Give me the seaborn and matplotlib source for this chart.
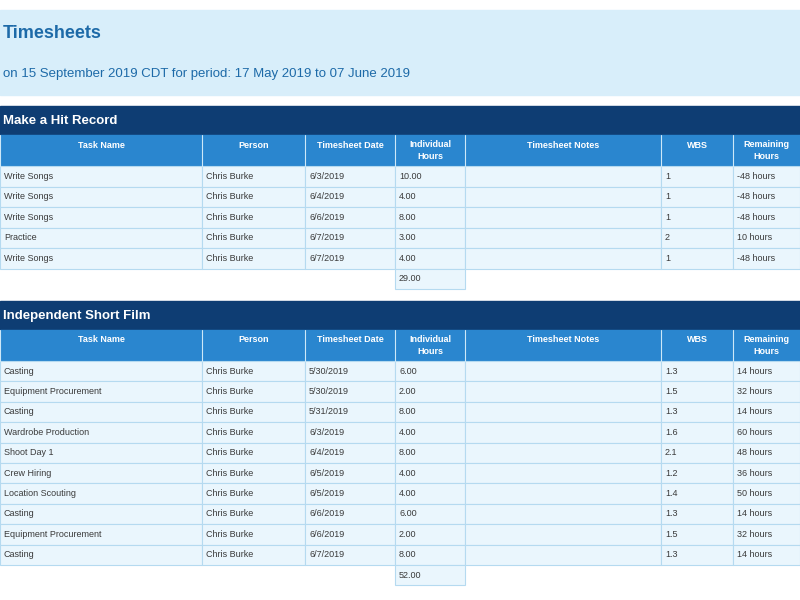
import matplotlib
matplotlib.use("Agg")
import matplotlib.pyplot as plt
import seaborn as sns
from matplotlib.patches import Rectangle

sns.set_theme(style="white", font="Liberation Sans")

title = "Timesheets"
subtitle = "on 15 September 2019 CDT for period: 17 May 2019 to 07 June 2019"
columns = ["Task Name", "Person", "Timesheet Date", "Individual\nHours",
           "Timesheet Notes", "WBS", "Remaining\nHours"]

proj1_name = "Make a Hit Record"
proj1_tasks = ["Write Songs", "Write Songs", "Write Songs", "Practice", "Write Songs"]
proj1_dates = ["6/3/2019", "6/4/2019", "6/6/2019", "6/7/2019", "6/7/2019"]
proj1_hours = [10.0, 4.0, 8.0, 3.0, 4.0]
proj1_wbs = ["1", "1", "1", "2", "1"]
proj1_remaining = [-48, -48, -48, 10, -48]

proj2_name = "Independent Short Film"
proj2_tasks = ["Casting", "Equipment Procurement", "Casting", "Wardrobe Production",
               "Shoot Day 1", "Crew Hiring", "Location Scouting", "Casting",
               "Equipment Procurement", "Casting"]
proj2_dates = ["5/30/2019", "5/30/2019", "5/31/2019", "6/3/2019", "6/4/2019",
               "6/5/2019", "6/5/2019", "6/6/2019", "6/6/2019", "6/7/2019"]
proj2_hours = [6.0, 2.0, 8.0, 4.0, 8.0, 4.0, 4.0, 6.0, 2.0, 8.0]
proj2_wbs = ["1.3", "1.5", "1.3", "1.6", "2.1", "1.2", "1.4", "1.3", "1.5", "1.3"]
proj2_remaining = [14, 32, 14, 60, 48, 36, 50, 14, 32, 14]
person = "Chris Burke"

col_x = [0, 202, 305, 395, 465, 661, 733, 800]
band_bg = "#d8eefa"
navy = "#0e3d73"
head_blue = "#2a86cf"
cell_bg = "#eaf6fd"
border = "#b5daf0"
text_c = "#3a3a3a"

fig = plt.figure(figsize=(8, 6), dpi=100)
ax = fig.add_axes([0, 0, 1, 1])
ax.set_xlim(0, 800)
ax.set_ylim(600, 0)
ax.axis("off")

ax.add_patch(Rectangle((0, 10), 800, 85, color=band_bg))
ax.text(3, 33, title, color="#1d6aa8", fontsize=13, fontweight="bold", va="center")
ax.text(3, 74, subtitle, color="#1d6aa8", fontsize=9.5, va="center")


def draw_section(y0, name, tasks, dates, hours, wbs, remaining, row_h):
    ax.add_patch(Rectangle((0, y0), 800, 29, color=navy))
    ax.text(3, y0 + 14.5, name, color="white", fontsize=9.5, fontweight="bold", va="center")
    hy = y0 + 29
    ax.add_patch(Rectangle((0, hy), 800, 31, color=head_blue))
    for i, c in enumerate(columns):
        ax.plot([col_x[i], col_x[i]], [hy, hy + 31], color="#cde8f8", lw=0.8)
        ax.text((col_x[i] + col_x[i + 1]) / 2, hy + (15.5 if "\n" in c else 10), c,
                color="white", fontsize=6.5, fontweight="bold", ha="center", va="center",
                linespacing=1.4)
    ry = hy + 31
    for r in range(len(tasks)):
        y = ry + r * row_h
        vals = [tasks[r], person, dates[r], f"{hours[r]:.2f}", "", wbs[r],
                f"{remaining[r]} hours"]
        for i, v in enumerate(vals):
            ax.add_patch(Rectangle((col_x[i], y), col_x[i + 1] - col_x[i], row_h,
                                   facecolor=cell_bg, edgecolor=border, lw=0.8))
            ax.text(col_x[i] + 4, y + row_h / 2, v, color=text_c, fontsize=6.5, va="center")
    ty = ry + len(tasks) * row_h
    ax.add_patch(Rectangle((col_x[3], ty), col_x[4] - col_x[3], row_h,
                           facecolor=cell_bg, edgecolor=border, lw=0.8))
    ax.text(col_x[3] + 4, ty + row_h / 2, f"{sum(hours):.2f}", color=text_c,
            fontsize=6.5, va="center")


draw_section(106, proj1_name, proj1_tasks, proj1_dates, proj1_hours,
             proj1_wbs, proj1_remaining, 20.5)
draw_section(301, proj2_name, proj2_tasks, proj2_dates, proj2_hours,
             proj2_wbs, proj2_remaining, 20.4)

fig.savefig("out.png", dpi=100, facecolor="white")
